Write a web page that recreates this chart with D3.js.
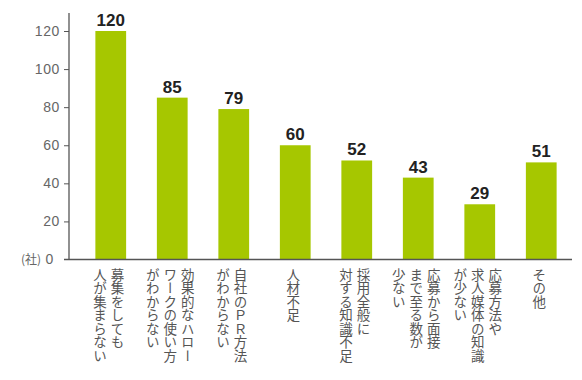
<!DOCTYPE html>
<html><head><meta charset="utf-8">
<script src="https://cdn.jsdelivr.net/npm/d3@7"></script>
<style>
html,body{margin:0;padding:0;background:#fff;}
svg{display:block;}
.cat{font-family:"Noto Sans CJK JP",sans-serif;font-size:13.5px;fill:#555;writing-mode:vertical-rl;}
</style>
</head><body>
<svg id="chart" width="582" height="380"></svg>
<script>
const categories = [
  ["募集をしても","人が集まらない"],
  ["効果的なハロー","ワークの使い方","がわからない"],
  ["自社のＰＲ方法","がわからない"],
  ["人材不足"],
  ["採用全般に","対する知識不足"],
  ["応募から面接","まで至る数が","少ない"],
  ["応募方法や","求人媒体の知識","が少ない"],
  ["その他"]
];
const values = [120, 85, 79, 60, 52, 43, 29, 51];
const yTicks = [0, 20, 40, 60, 80, 100, 120];
const unitLabel = "(社)";

const svg = d3.select("#chart");
const x0 = 69, baseY = 259.5;
const x = d3.scaleBand().domain(d3.range(values.length)).range([80, 572]).paddingInner(0.5).paddingOuter(0.25);
const y = d3.scaleLinear().domain([0, 120]).range([baseY, 31]);

// bars
svg.selectAll("rect.bar").data(values).join("rect")
  .attr("x", (d,i)=>x(i)).attr("width", x.bandwidth())
  .attr("y", d=>y(d)).attr("height", d=>baseY - y(d))
  .attr("fill", "#a6c700");

// value labels
svg.selectAll("text.val").data(values).join("text")
  .attr("x", (d,i)=>x(i)+x.bandwidth()/2).attr("y", d=>y(d)-5)
  .attr("text-anchor","middle")
  .attr("font-family","Liberation Sans, Arial, sans-serif")
  .attr("font-weight","bold").attr("font-size", 17).attr("fill","#222")
  .text(d=>d);

// y axis
const yAxis = d3.axisLeft(y).tickValues(yTicks).tickSize(5).tickPadding(4).tickFormat(d=>d);
const gy = svg.append("g").attr("transform",`translate(${x0},0)`).call(yAxis);
gy.select(".domain").remove();
gy.selectAll(".tick line").attr("stroke","#555");
gy.selectAll(".tick text").attr("font-family","Liberation Sans, Arial, sans-serif")
  .attr("font-size",14).attr("letter-spacing","0.6px").attr("fill","#666");
gy.selectAll(".tick").filter(d=>d===0).select("line").remove();
gy.selectAll(".tick").filter(d=>d===0).select("text").attr("dx",-6);
svg.append("line").attr("x1",x0).attr("x2",x0).attr("y1",13).attr("y2",baseY)
  .attr("stroke","#555").attr("stroke-width",1.3);
svg.append("line").attr("x1",64).attr("x2",572).attr("y1",baseY).attr("y2",baseY)
  .attr("stroke","#555").attr("stroke-width",1.3);
svg.append("text").attr("x",41).attr("y",y(0)+4.5).attr("text-anchor","end")
  .attr("font-family","Noto Sans CJK JP, sans-serif").attr("font-size",12).attr("fill","#666")
  .text(unitLabel);

// category labels (vertical)
const colGap = 17.5;
categories.forEach((lines,i)=>{
  const cx = x(i)+x.bandwidth()/2 - 2;
  const n = lines.length;
  lines.forEach((ln,j)=>{
    const off = ((n-1)/2 - j)*colGap;
    svg.append("text").attr("class","cat")
      .attr("x", cx+off).attr("y", 268)
      .text(ln);
  });
});
</script>
</body></html>
